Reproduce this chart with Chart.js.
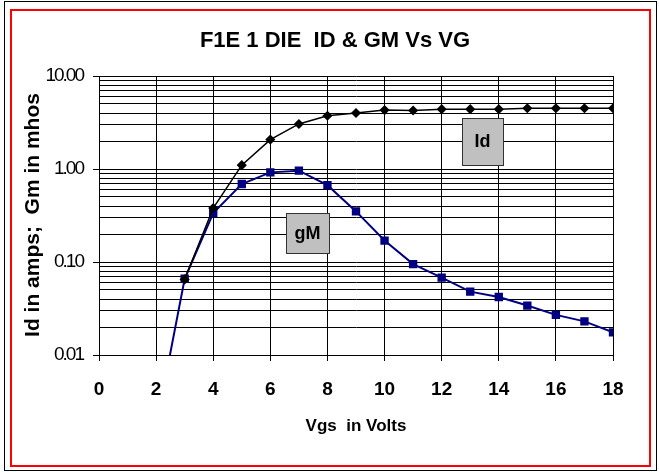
<!DOCTYPE html>
<html>
<head>
<meta charset="utf-8">
<script src="https://cdn.jsdelivr.net/npm/chart.js@4.4.0/dist/chart.umd.min.js"></script>
<style>
  html, body { margin: 0; padding: 0; background: #fff; }
  #wrap { width: 659px; height: 472px; }
</style>
</head>
<body>
<div id="wrap"><canvas id="myChart" width="659" height="472"></canvas></div>
<script>
// data
var vgs = [2, 3, 4, 5, 6, 7, 8, 9, 10, 11, 12, 13, 14, 15, 16, 17, 18];
var idAmps = [null, 0.065, 0.38, 1.1, 2.07, 3.05, 3.74, 4.0, 4.3, 4.25, 4.4, 4.4, 4.4, 4.5, 4.5, 4.5, 4.5];
var gmMhos = [0.0017, 0.066, 0.336, 0.69, 0.92, 0.96, 0.67, 0.35, 0.17, 0.095, 0.068, 0.048, 0.042, 0.034, 0.027, 0.023, 0.0175];
var yDecades = [0.01, 0.1, 1, 10];
var xTicks = [0, 2, 4, 6, 8, 10, 12, 14, 16, 18];

function points(ys) {
    return vgs.map(function (v, i) { return { x: v, y: ys[i] }; });
}

var FONT = "'Liberation Sans', Arial, sans-serif";

// frame, titles and the two gray label boxes
var decor = {
    id: 'decor',
    beforeDraw: function (chart) {
        var c = chart.ctx;
        c.save();
        c.fillStyle = '#fff';
        c.fillRect(0, 0, chart.width, chart.height);
        c.lineWidth = 1;
        c.strokeStyle = '#000';
        c.strokeRect(4.5, 1.5, 652, 469);
        c.lineWidth = 2;
        c.strokeStyle = '#ff0000';
        c.strokeRect(11, 10, 639, 456);
        c.restore();
        c.letterSpacing = '0px';
    },
    afterDatasetsDraw: function (chart) {
        var c = chart.ctx;
        c.save();
        c.textAlign = 'center';
        c.textBaseline = 'middle';
        var boxes = [
            { text: 'Id', x: 462, y: 118, w: 41, h: 47 },
            { text: 'gM', x: 286, y: 213, w: 43, h: 40 }
        ];
        boxes.forEach(function (b) {
            c.fillStyle = '#c0c0c0';
            c.fillRect(b.x, b.y, b.w, b.h);
            c.lineWidth = 1;
            c.strokeStyle = '#333';
            c.strokeRect(b.x + 0.5, b.y + 0.5, b.w, b.h);
            c.fillStyle = '#000';
            c.font = 'bold 18px ' + FONT;
            c.fillText(b.text, b.x + b.w / 2, b.y + b.h / 2 + 1);
        });
        c.restore();
        // the y tick labels (drawn next, z = 1) are tightly packed in the original
        c.letterSpacing = '-2px';
    },
    afterDraw: function (chart) {
        var c = chart.ctx;
        c.letterSpacing = '0px';
        c.save();
        c.fillStyle = '#000';
        c.textAlign = 'center';
        c.textBaseline = 'middle';
        c.font = 'bold 22px ' + FONT;
        c.fillText('F1E 1 DIE  ID & GM Vs VG', 335, 41);
        c.translate(33, 215);
        c.rotate(-Math.PI / 2);
        c.font = 'bold 21px ' + FONT;
        c.fillText('Id in amps;  Gm in mhos', 0, 0);
        c.restore();
    }
};

var ctx = document.getElementById('myChart').getContext('2d');
var myChart = new Chart(ctx, {
    type: 'line',
    plugins: [decor],
    data: {
        datasets: [{
            label: 'Id',
            data: points(idAmps),
            borderColor: '#000',
            backgroundColor: '#000',
            borderWidth: 1.5,
            pointStyle: 'rectRot',
            pointRadius: 4,
            pointHoverRadius: 4,
            tension: 0
        }, {
            label: 'gM',
            data: points(gmMhos),
            borderColor: '#000080',
            backgroundColor: '#000080',
            borderWidth: 2,
            pointStyle: 'rect',
            pointRadius: 4.5,
            pointHoverRadius: 4.5,
            tension: 0
        }]
    },
    options: {
        responsive: false,
        animation: false,
        events: [],
        layout: { padding: { left: 10, right: 46, top: 76, bottom: 8 } },
        plugins: {
            legend: { display: false },
            tooltip: { enabled: false },
            title: { display: false }
        },
        scales: {
            x: {
                type: 'linear',
                min: 0,
                max: 18,
                afterBuildTicks: function (scale) {
                    scale.ticks = xTicks.map(function (v) { return { value: v }; });
                },
                afterFit: function (scale) { scale.height = 472 - 8 - 355; },
                ticks: {
                    color: '#000',
                    font: { family: FONT, size: 19, weight: 'bold' },
                    padding: 17,
                    autoSkip: false,
                    maxRotation: 0
                },
                grid: { color: '#000', lineWidth: 1, tickLength: 6, tickColor: '#000' },
                border: { color: '#000', width: 1 },
                title: {
                    display: true,
                    text: 'Vgs  in Volts',
                    color: '#000',
                    font: { family: FONT, size: 17, weight: 'bold' },
                    padding: { top: 0, bottom: 27 }
                }
            },
            y: {
                type: 'logarithmic',
                min: 0.01,
                max: 10,
                afterBuildTicks: function (scale) {
                    var t = [];
                    yDecades.forEach(function (d, i) {
                        t.push({ value: d, major: true });
                        if (i < yDecades.length - 1) {
                            for (var k = 2; k <= 9; k++) t.push({ value: d * k });
                        }
                    });
                    scale.ticks = t;
                },
                afterFit: function (scale) { scale.width = 89; },
                ticks: {
                    color: '#000',
                    font: { family: FONT, size: 19 },
                    padding: 10,
                    z: 1,
                    autoSkip: false,
                    callback: function (value) {
                        return yDecades.indexOf(value) >= 0 ? value.toFixed(2) : '';
                    }
                },
                grid: {
                    color: '#000',
                    lineWidth: 1,
                    tickLength: 6,
                    tickColor: function (c) {
                        return c.tick && yDecades.indexOf(c.tick.value) >= 0 ? '#000' : 'rgba(0,0,0,0)';
                    }
                },
                border: { color: '#000', width: 1 },
                title: { display: false }
            }
        }
    }
});
</script>
</body>
</html>
